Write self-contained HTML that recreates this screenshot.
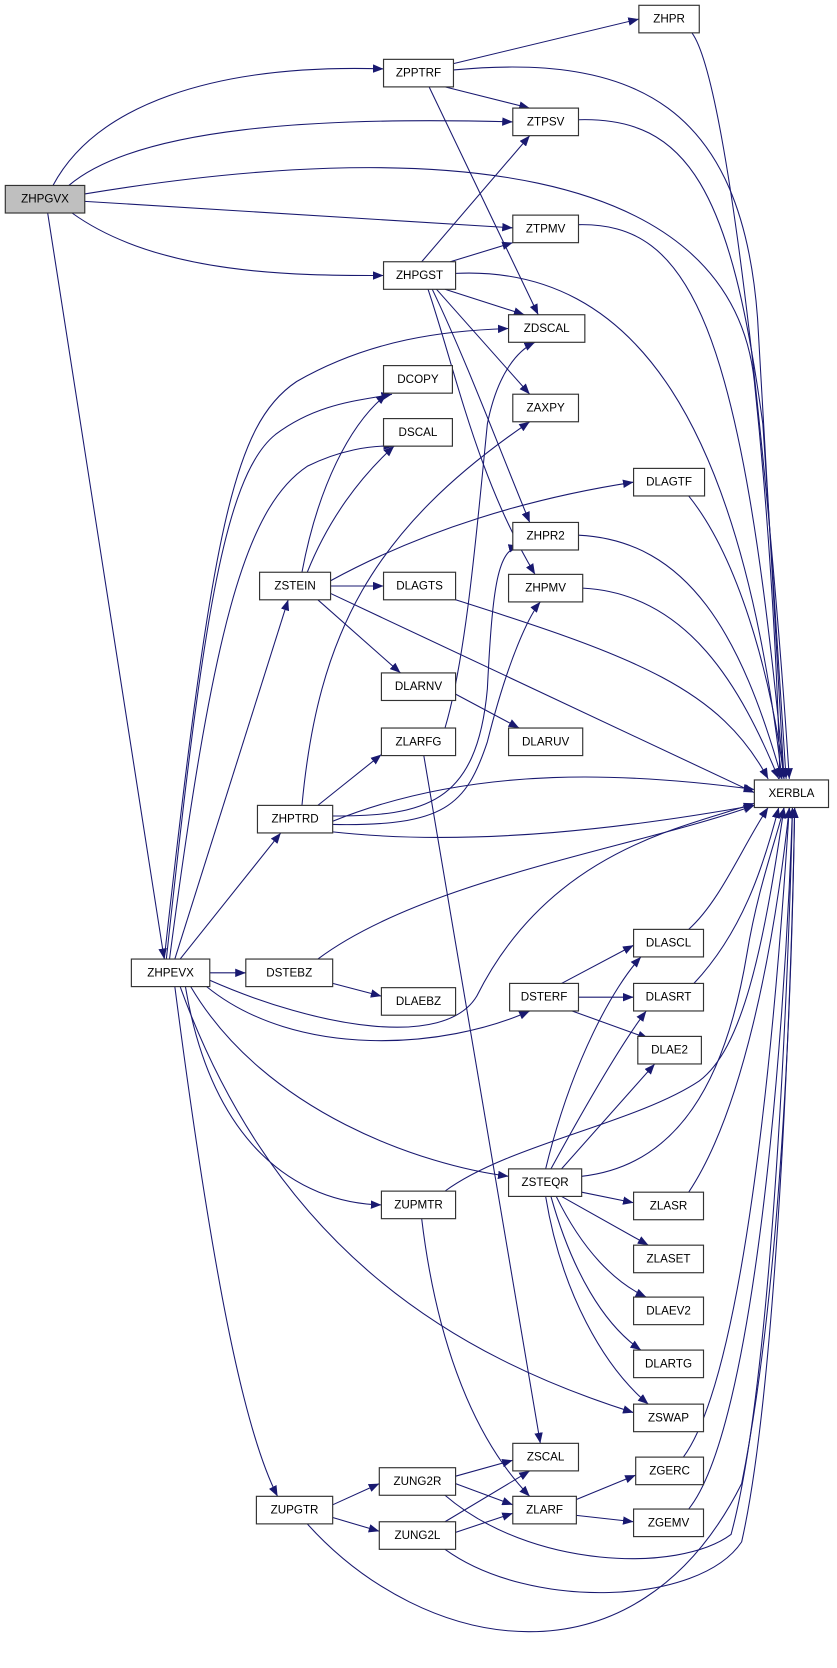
<!DOCTYPE html>
<html><head><meta charset="utf-8"><style>
html,body{margin:0;padding:0;background:#fff}
svg{display:block}
text{font-family:"Liberation Sans",sans-serif;font-size:11px;fill:#000;text-anchor:middle;dominant-baseline:central}
.n{fill:#fff;stroke:#333;stroke-width:1.1}
.e{fill:none;stroke:#191970;stroke-width:1;marker-end:url(#a)}
</style></head><body>
<svg width="837" height="1668" viewBox="0 0 790 1574" preserveAspectRatio="none" xmlns="http://www.w3.org/2000/svg">
<defs><marker id="a" viewBox="0 0 10 8" refX="10" refY="4" markerWidth="10" markerHeight="8" markerUnits="userSpaceOnUse" orient="auto"><path d="M0,0 L10,4 L0,8 z" fill="#191970"/></marker></defs>
<g>
<path class="e" d="M50,175 C90,100 200,60 362,65"/>
<path class="e" d="M65,175 C130,120 300,110 484,115"/>
<path class="e" d="M80,183 C400,130 690,150 712,360 S736,735 736,735"/>
<path class="e" d="M80,190 L484,215"/>
<path class="e" d="M68,201 C150,260 280,260 362,260"/>
<path class="e" d="M45,201 L155,905"/>
<path class="e" d="M428,60 L603,18"/>
<path class="e" d="M428,66 C600,50 700,100 715,300 L740,735"/>
<path class="e" d="M420,82 L500,102"/>
<path class="e" d="M405,82 L508,297"/>
<path class="e" d="M653,31 C690,80 730,500 745,735"/>
<path class="e" d="M546,113 C650,110 690,180 720,400 L742,735"/>
<path class="e" d="M546,212 C650,210 700,300 740,735"/>
<path class="e" d="M398,247 L500,128"/>
<path class="e" d="M425,247 L484,229"/>
<path class="e" d="M430,258 C600,250 700,400 738,735"/>
<path class="e" d="M420,273 L495,297"/>
<path class="e" d="M412,273 L500,372"/>
<path class="e" d="M408,273 C440,340 470,420 500,493"/>
<path class="e" d="M404,273 C430,350 450,450 505,542"/>
<path class="e" d="M285,540 C300,460 330,400 365,372"/>
<path class="e" d="M290,540 C310,490 340,450 372,421"/>
<path class="e" d="M312,548 C400,500 500,470 598,455"/>
<path class="e" d="M312,553 L362,553"/>
<path class="e" d="M300,566 L378,635"/>
<path class="e" d="M312,560 L712,748"/>
<path class="e" d="M155,905 C200,500 220,400 280,360 C350,320 420,312 480,310"/>
<path class="e" d="M157,905 C190,600 210,450 260,410 C300,380 340,378 370,372"/>
<path class="e" d="M160,905 C200,600 230,480 290,440 C320,425 350,420 372,421"/>
<path class="e" d="M165,905 L272,566"/>
<path class="e" d="M170,905 L265,786"/>
<path class="e" d="M198,918 L232,918"/>
<path class="e" d="M198,925 C300,970 420,990 450,940 C520,800 650,780 712,758"/>
<path class="e" d="M195,931 C280,1000 420,990 500,954"/>
<path class="e" d="M180,931 C250,1050 400,1100 480,1110"/>
<path class="e" d="M175,931 C200,1080 280,1135 360,1137"/>
<path class="e" d="M170,931 C260,1180 430,1280 598,1333"/>
<path class="e" d="M165,931 C200,1200 230,1350 262,1412"/>
<path class="e" d="M300,760 L360,712"/>
<path class="e" d="M285,760 C300,600 350,500 500,398"/>
<path class="e" d="M314,770 C400,770 450,760 460,650 C465,550 470,520 490,515"/>
<path class="e" d="M314,778 C420,780 440,760 460,700 C480,620 500,580 510,568"/>
<path class="e" d="M420,687 C440,620 450,500 460,400 C470,350 490,330 505,323"/>
<path class="e" d="M314,775 C450,720 600,730 712,745"/>
<path class="e" d="M314,785 C450,800 600,780 712,760"/>
<path class="e" d="M400,713 L510,1362"/>
<path class="e" d="M430,655 L490,687"/>
<path class="e" d="M650,468 C700,530 730,650 740,735"/>
<path class="e" d="M546,505 C650,510 700,600 738,735"/>
<path class="e" d="M550,555 C650,560 700,650 735,735"/>
<path class="e" d="M430,566 C600,620 680,650 725,735"/>
<path class="e" d="M300,905 C400,830 600,800 712,760"/>
<path class="e" d="M314,928 L360,940"/>
<path class="e" d="M530,928 L598,892"/>
<path class="e" d="M546,941 L598,941"/>
<path class="e" d="M540,954 L612,980"/>
<path class="e" d="M650,877 C680,850 700,800 725,762"/>
<path class="e" d="M655,928 C700,880 720,820 735,762"/>
<path class="e" d="M515,1103 C540,1000 580,930 605,903"/>
<path class="e" d="M520,1103 C560,1030 590,980 610,954"/>
<path class="e" d="M530,1103 L618,1004"/>
<path class="e" d="M549,1110 C640,1100 685,1020 705,900 C715,840 730,800 740,762"/>
<path class="e" d="M549,1125 L598,1135"/>
<path class="e" d="M530,1129 L612,1175"/>
<path class="e" d="M525,1129 C550,1180 580,1210 610,1224"/>
<path class="e" d="M520,1129 C540,1200 570,1250 605,1274"/>
<path class="e" d="M515,1129 C530,1220 570,1290 612,1325"/>
<path class="e" d="M420,1124 C480,1080 600,1060 660,1020 C700,990 720,900 740,762"/>
<path class="e" d="M398,1150 C410,1250 440,1350 500,1412"/>
<path class="e" d="M650,1125 C700,1050 730,900 745,762"/>
<path class="e" d="M645,1375 C700,1300 730,1000 745,762"/>
<path class="e" d="M650,1424 C710,1350 740,1000 748,762"/>
<path class="e" d="M314,1420 L358,1400"/>
<path class="e" d="M314,1432 L358,1445"/>
<path class="e" d="M290,1438 C400,1560 600,1600 700,1400 C740,1200 748,900 750,762"/>
<path class="e" d="M430,1393 L484,1378"/>
<path class="e" d="M430,1400 L484,1420"/>
<path class="e" d="M420,1411 C500,1480 640,1485 690,1448 C730,1300 745,900 748,762"/>
<path class="e" d="M420,1436 L500,1388"/>
<path class="e" d="M430,1446 L484,1428"/>
<path class="e" d="M420,1462 C500,1520 660,1515 700,1455 C735,1300 748,900 750,762"/>
<path class="e" d="M544,1415 L600,1392"/>
<path class="e" d="M544,1430 L598,1436"/>
</g>
<g>
<rect x="5" y="175" width="75" height="26" style="fill:#bfbfbf;stroke:#333;stroke-width:1.1"/><text x="42.5" y="188">ZHPGVX</text>
<rect class="n" x="362" y="56" width="66" height="26"/><text x="395" y="69">ZPPTRF</text>
<rect class="n" x="603" y="5" width="57" height="26"/><text x="631.5" y="18">ZHPR</text>
<rect class="n" x="484" y="102" width="62" height="26"/><text x="515" y="115">ZTPSV</text>
<rect class="n" x="484" y="203" width="62" height="26"/><text x="515" y="216">ZTPMV</text>
<rect class="n" x="362" y="247" width="68" height="26"/><text x="396" y="260">ZHPGST</text>
<rect class="n" x="480" y="297" width="72" height="26"/><text x="516" y="310">ZDSCAL</text>
<rect class="n" x="362" y="345" width="65" height="26"/><text x="394.5" y="358">DCOPY</text>
<rect class="n" x="362" y="395" width="65" height="26"/><text x="394.5" y="408">DSCAL</text>
<rect class="n" x="484" y="372" width="62" height="26"/><text x="515" y="385">ZAXPY</text>
<rect class="n" x="598" y="442" width="67" height="26"/><text x="631.5" y="455">DLAGTF</text>
<rect class="n" x="484" y="493" width="62" height="26"/><text x="515" y="506">ZHPR2</text>
<rect class="n" x="245" y="540" width="67" height="26"/><text x="278.5" y="553">ZSTEIN</text>
<rect class="n" x="362" y="540" width="68" height="26"/><text x="396" y="553">DLAGTS</text>
<rect class="n" x="480" y="542" width="70" height="26"/><text x="515" y="555">ZHPMV</text>
<rect class="n" x="360" y="635" width="70" height="26"/><text x="395" y="648">DLARNV</text>
<rect class="n" x="360" y="687" width="70" height="26"/><text x="395" y="700">ZLARFG</text>
<rect class="n" x="480" y="687" width="70" height="26"/><text x="515" y="700">DLARUV</text>
<rect class="n" x="712" y="736" width="70" height="26"/><text x="747" y="749">XERBLA</text>
<rect class="n" x="243" y="760" width="71" height="26"/><text x="278.5" y="773">ZHPTRD</text>
<rect class="n" x="598" y="877" width="66" height="26"/><text x="631" y="890">DLASCL</text>
<rect class="n" x="124" y="905" width="74" height="26"/><text x="161" y="918">ZHPEVX</text>
<rect class="n" x="232" y="905" width="82" height="26"/><text x="273" y="918">DSTEBZ</text>
<rect class="n" x="598" y="928" width="66" height="26"/><text x="631" y="941">DLASRT</text>
<rect class="n" x="481" y="928" width="65" height="26"/><text x="513.5" y="941">DSTERF</text>
<rect class="n" x="360" y="932" width="70" height="26"/><text x="395" y="945">DLAEBZ</text>
<rect class="n" x="602" y="978" width="60" height="26"/><text x="632" y="991">DLAE2</text>
<rect class="n" x="480" y="1103" width="69" height="26"/><text x="514.5" y="1116">ZSTEQR</text>
<rect class="n" x="360" y="1124" width="70" height="26"/><text x="395" y="1137">ZUPMTR</text>
<rect class="n" x="598" y="1125" width="66" height="26"/><text x="631" y="1138">ZLASR</text>
<rect class="n" x="598" y="1175" width="66" height="26"/><text x="631" y="1188">ZLASET</text>
<rect class="n" x="598" y="1224" width="66" height="26"/><text x="631" y="1237">DLAEV2</text>
<rect class="n" x="598" y="1274" width="66" height="26"/><text x="631" y="1287">DLARTG</text>
<rect class="n" x="598" y="1325" width="66" height="26"/><text x="631" y="1338">ZSWAP</text>
<rect class="n" x="484" y="1362" width="62" height="26"/><text x="515" y="1375">ZSCAL</text>
<rect class="n" x="600" y="1375" width="64" height="26"/><text x="632" y="1388">ZGERC</text>
<rect class="n" x="358" y="1385" width="72" height="26"/><text x="394" y="1398">ZUNG2R</text>
<rect class="n" x="242" y="1412" width="72" height="26"/><text x="278" y="1425">ZUPGTR</text>
<rect class="n" x="484" y="1412" width="60" height="26"/><text x="514" y="1425">ZLARF</text>
<rect class="n" x="598" y="1424" width="66" height="26"/><text x="631" y="1437">ZGEMV</text>
<rect class="n" x="358" y="1436" width="72" height="26"/><text x="394" y="1449">ZUNG2L</text>
</g>
</svg>
</body></html>
